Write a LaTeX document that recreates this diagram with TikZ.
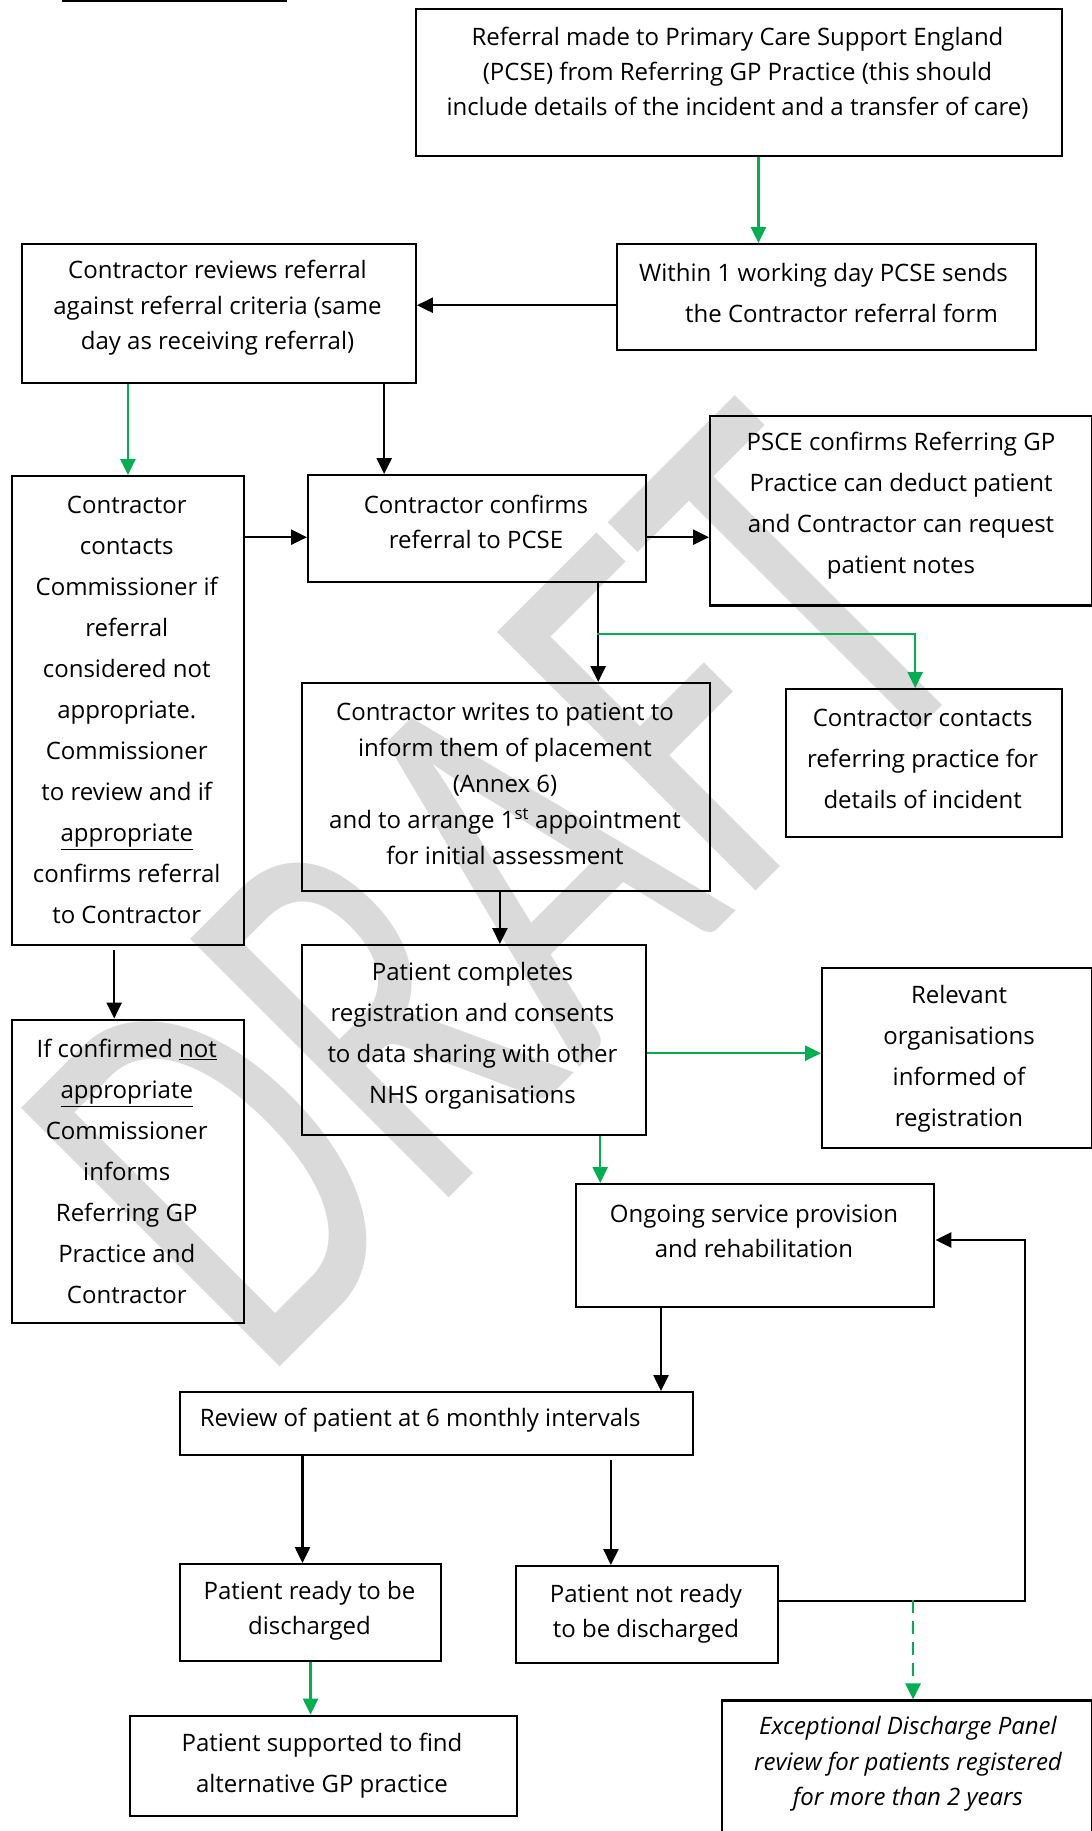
\documentclass[tikz,border=0pt]{standalone}
\usepackage{fontspec}
\setmainfont{Open Sans}
\newfontfamily\wmfont{Carlito}
\usetikzlibrary{arrows.meta}
\definecolor{mygreen}{RGB}{0,176,80}
\definecolor{wmgray}{RGB}{218,218,218}
\tikzset{
  box/.style={draw=black, line width=2.4pt, inner sep=0pt, anchor=north west},
  txt/.style={align=center, inner sep=0pt, font=\fontsize{24}{35}\selectfont},
  arr/.style={line width=2.5pt, -{Triangle[length=16pt,width=15pt]}},
  garr/.style={arr, draw=mygreen},
  gdash/.style={garr, dash pattern=on 13pt off 8pt, line width=2.8pt},
}
\begin{document}
\begin{tikzpicture}[x=1pt,y=-1pt]
\useasboundingbox (0,0) rectangle (1092,1831);
\clip (0,0) rectangle (1092,1831);
\fill[white] (0,0) rectangle (1092,1831);

% watermark
\node[anchor=base west, rotate=45, inner sep=0pt, text=wmgray,
      font=\wmfont\fontsize{570}{570}\selectfont] (wm) at (261,1386) {\scalebox{0.68}[1]{DRAFT}};

% heading underline (cut off)
\draw[line width=2pt] (62,1) -- (287,1);

% boxes
\node[box, minimum width=646, minimum height=147] (A) at (415,8) {};
\node[box, minimum width=419.5, minimum height=106] (B) at (615.5,243) {};
\node[box, minimum width=393.5, minimum height=139] (C) at (21,243) {};
\node[box, minimum width=232.5, minimum height=469] (D) at (10.5,475) {};
\node[box, minimum width=338, minimum height=106.5] (E) at (307,474) {};
\node[box, minimum width=382, minimum height=189.5] (F) at (709,414.6) {};
\node[box, minimum width=408, minimum height=208] (G) at (301,682) {};
\node[box, minimum width=275.5, minimum height=148] (H) at (785,688) {};
\node[box, minimum width=344, minimum height=190] (I) at (301,944) {};
\node[box, minimum width=270, minimum height=180] (J) at (821,967) {};
\node[box, minimum width=232.5, minimum height=303.5] (K) at (10.5,1018.5) {};
\node[box, minimum width=358.4, minimum height=123] (L) at (574.6,1183) {};
\node[box, minimum width=512.8, minimum height=63] (M) at (178.7,1391) {};
\node[box, minimum width=261.3, minimum height=97] (N) at (178.7,1563) {};
\node[box, minimum width=261.7, minimum height=97] (O) at (515,1565) {};
\node[box, minimum width=387.5, minimum height=100.4] (P) at (128.5,1714.6) {};
\node[box, minimum width=370.3, minimum height=150] (Q) at (720.7,1699.4) {};

% texts
\node[txt] (A-t) at (737.5,73.6) {Referral made to Primary Care Support England\\(PCSE) from Referring GP Practice (this should\\include details of the incident and a transfer of care)};
\node[txt, font=\fontsize{24}{41}\selectfont] (B-t) at (823.5,292.5) {Within 1 working day PCSE sends\\\hspace*{36pt}the Contractor referral form};
\node[txt, font=\fontsize{24}{35.5}\selectfont] (C-t) at (217.5,308) {Contractor reviews referral\\against referral criteria (same\\day as receiving referral)};
\node[txt, font=\fontsize{24}{41}\selectfont] (D-t) at (126.75,710) {Contractor\\contacts\\Commissioner if\\referral\\considered not\\appropriate.\\Commissioner\\to review and if\\\underline{appropriate}\\confirms referral\\to Contractor};
\node[txt] (E-t) at (476,522) {Contractor confirms\\referral to PCSE};
\node[txt, font=\fontsize{24}{41}\selectfont] (F-t) at (901,506) {PSCE confirms Referring GP\\Practice can deduct patient\\and Contractor can request\\patient notes};
\node[txt, font=\fontsize{24}{36}\selectfont] (G-t) at (505,784) {Contractor writes to patient to\\inform them of placement\\(Annex 6)\\and to arrange 1\textsuperscript{st} appointment\\for initial assessment};
\node[txt, font=\fontsize{24}{41}\selectfont] (H-t) at (922.7,759) {Contractor contacts\\referring practice for\\details of incident};
\node[txt, font=\fontsize{24}{41}\selectfont] (I-t) at (472.5,1035.5) {Patient completes\\registration and consents\\to data sharing with other\\NHS organisations};
\node[txt, font=\fontsize{24}{41}\selectfont] (J-t) at (959,1059) {Relevant\\organisations\\informed of\\registration};
\node[txt, font=\fontsize{24}{41}\selectfont] (K-t) at (126.75,1171.5) {If confirmed \underline{not}\\\underline{appropriate}\\Commissioner\\informs\\Referring GP\\Practice and\\Contractor};
\node[txt] (L-t) at (754,1231) {Ongoing service provision\\and rehabilitation};
\node[txt, anchor=west] (M-t) at (199.7,1420) {Review of patient at 6 monthly intervals};
\node[txt] (N-t) at (309.5,1610.7) {Patient ready to be\\discharged};
\node[txt] (O-t) at (646,1614) {Patient not ready\\to be discharged};
\node[txt, font=\fontsize{24}{41}\selectfont] (P-t) at (322,1765.5) {Patient supported to find\\alternative GP practice};
\node[txt, font=\fontsize{24}{35.7}\selectfont\itshape] (Q-t) at (908,1764) {Exceptional Discharge Panel\\review for patients registered\\for more than 2 years};

% helper coordinates
\coordinate (a1) at ([xshift=19.25pt]A.south);
\coordinate (b1) at ([yshift=-8pt]B.west);
\coordinate (c1) at ([xshift=165.2pt]C.south);
\coordinate (e0) at ([yshift=-8.75pt]E.west);
\coordinate (e1) at ([yshift=-8.75pt]E.east);
\coordinate (e2) at ([xshift=121pt]E.south);
\coordinate (br) at (597,634);
\coordinate (h1) at ([xshift=-8.75pt]H.north);
\coordinate (d1) at ([xshift=-13.75pt,yshift=-4pt]D.south);
\coordinate (g1) at ([xshift=-6.3pt]G.south);
\coordinate (i1) at ([yshift=-13pt]I.east);
\coordinate (i2) at ([xshift=126pt]I.south);
\coordinate (l1) at ([xshift=-94pt]L.south);
\coordinate (m1) at ([xshift=-133.8pt]M.south);
\coordinate (m2) at ([xshift=174.6pt,yshift=-3.5pt]M.south);
\coordinate (o1) at ([yshift=13.5pt]O.east);
\coordinate (loopc) at (1025,1240);
\coordinate (dsh) at (913,1600);

% connectors
\draw[garr] (a1) -- (a1 |- B.north);
\draw[arr] (b1) -- (b1 -| C.east);
\draw[garr] (D.north |- C.south) -- (D.north);
\draw[arr] (c1) -- (c1 |- E.north);
\draw[arr] (e0 -| D.east) -- (e0);
\draw[arr] (e1) -- (e1 -| F.west);
\draw[arr] (e2) -- (e2 |- G.north);
\draw[garr] (br) -| (h1);
\draw[arr] (d1) -- (d1 |- K.north);
\draw[arr] (g1) -- (g1 |- I.north);
\draw[garr] (i1) -- (i1 -| J.west);
\draw[garr] (i2) -- (i2 |- L.north);
\draw[arr] (l1) -- (l1 |- M.north);
\draw[arr] (m1) -- (m1 |- N.north);
\draw[arr] (m2) -- (m2 |- O.north);
\draw[arr] (o1) -| (loopc) -- (loopc -| L.east);
\draw[gdash] (dsh) -- (dsh |- Q.north);
\draw[garr] (N.south) -- (N.south |- P.north);
\end{tikzpicture}
\end{document}
